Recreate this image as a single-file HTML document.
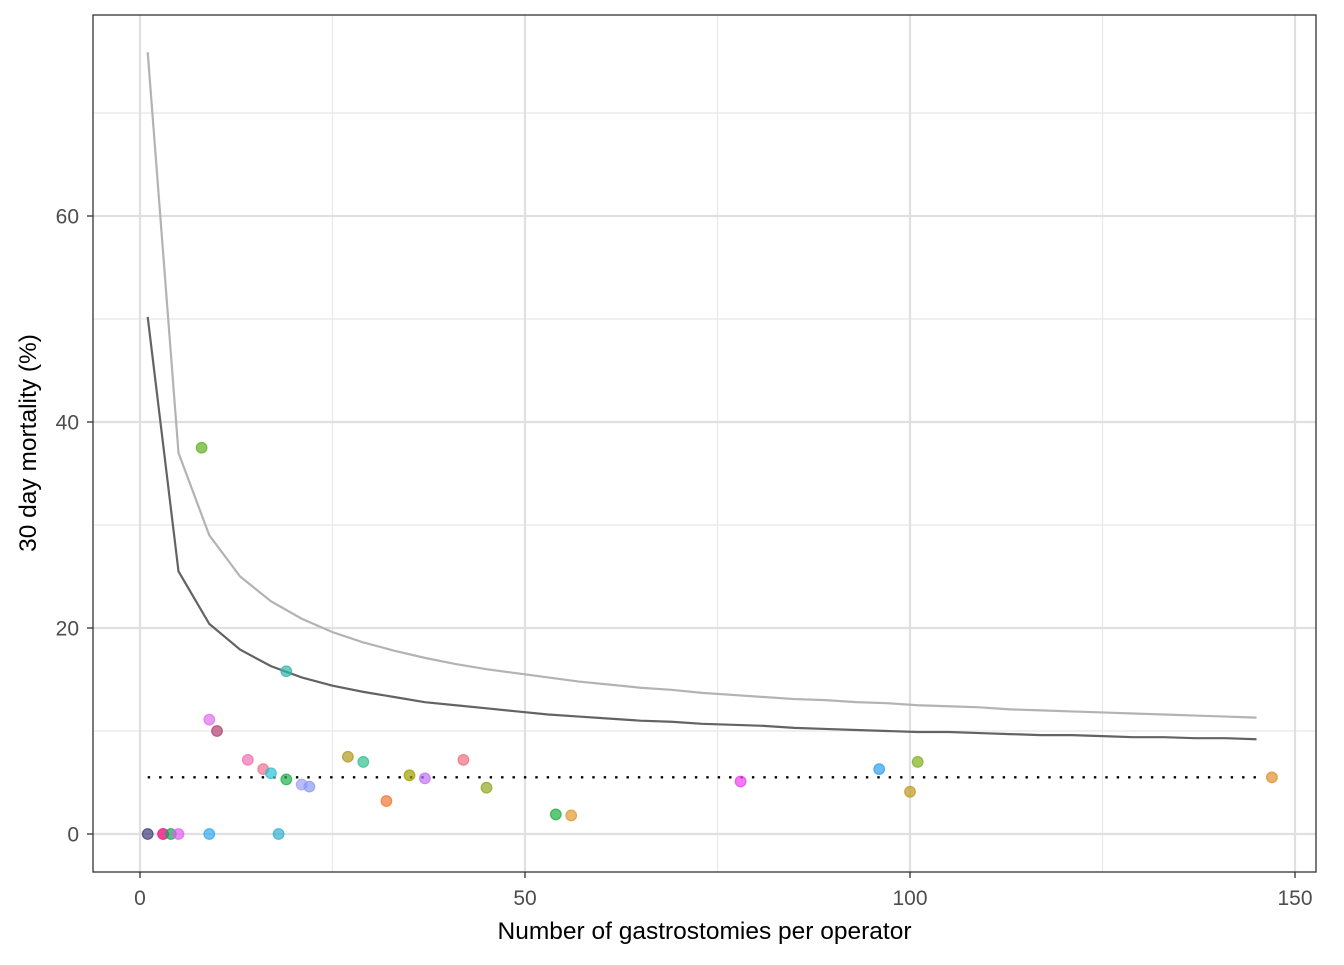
<!DOCTYPE html>
<html><head><meta charset="utf-8"><style>
body{margin:0;background:#fff}
svg text{font-family:"Liberation Sans",Arial,sans-serif}
</style></head><body>
<svg id="chart" width="1344" height="960" xmlns="http://www.w3.org/2000/svg"></svg>
<script>
const funnelN=[1,5,9,13,17,21,25,29,33,37,41,45,49,53,57,61,65,69,73,77,81,85,89,93,97,101,105,109,113,117,121,125,129,133,137,141,145];
const upper95=[50.2,25.5,20.4,17.9,16.3,15.2,14.4,13.8,13.3,12.8,12.5,12.2,11.9,11.6,11.4,11.2,11.0,10.9,10.7,10.6,10.5,10.3,10.2,10.1,10.0,9.9,9.9,9.8,9.7,9.6,9.6,9.5,9.4,9.4,9.3,9.3,9.2];
const upper998=[75.9,37.0,29.0,25.0,22.6,20.9,19.6,18.6,17.8,17.1,16.5,16.0,15.6,15.2,14.8,14.5,14.2,14.0,13.7,13.5,13.3,13.1,13.0,12.8,12.7,12.5,12.4,12.3,12.1,12.0,11.9,11.8,11.7,11.6,11.5,11.4,11.3];
const meanRate=5.5;
const opX=[1,3,3,4,5,8,9,9,10,14,16,17,18,19,19,21,22,27,29,32,35,37,42,45,54,56,78,96,100,101,147];
const opY=[0,0,0,0,0,37.5,0,11.1,10,7.2,6.3,5.9,0,5.3,15.8,4.8,4.6,7.5,7,3.2,5.7,5.4,7.2,4.5,1.9,1.8,5.1,6.3,4.1,7,5.5];
const opC=['#3d3d7a','#f03090','#f03090','#20a060','#e060f0','#60b020','#30a8f0','#e070f0','#b04070','#f070b0','#f07090','#30c0d0','#30b0d0','#20b050','#30b8a8','#a0a0f8','#8898f8','#b09a20','#30c090','#f07830','#a0a000','#c070f8','#f07080','#90a820','#20b040','#e09830','#f040f0','#30a0f0','#c09a20','#80b020','#e09030'];
const xTicks=[0,50,100,150], xMinor=[25,75,125];
const yTicks=[0,20,40,60], yMinor=[10,30,50,70];
const L=93,T=15,R=1316,B=872;
const sx=v=>140+v*7.7, sy=v=>834-v*10.3;
const svg=document.getElementById('chart');
const NS='http://www.w3.org/2000/svg';
function mk(t,a,p){const e=document.createElementNS(NS,t);for(const k in a)e.setAttribute(k,a[k]);(p||svg).appendChild(e);return e;}
const grid=mk('g',{});


xMinor.forEach(v=>mk('line',{x1:sx(v),x2:sx(v),y1:T,y2:B,stroke:'#e8e8e8','stroke-width':1.2},grid));
yMinor.forEach(v=>mk('line',{x1:L,x2:R,y1:sy(v),y2:sy(v),stroke:'#e8e8e8','stroke-width':1.2},grid));
xTicks.forEach(v=>mk('line',{x1:sx(v),x2:sx(v),y1:T,y2:B,stroke:'#e0e0e0','stroke-width':2.2},grid));
yTicks.forEach(v=>mk('line',{x1:L,x2:R,y1:sy(v),y2:sy(v),stroke:'#e0e0e0','stroke-width':2.2},grid));
const pts=(ys)=>funnelN.map((n,i)=>sx(n)+','+sy(ys[i])).join(' ');
const l2=mk('polyline',{points:pts(upper998),fill:'none',stroke:'#b3b3b3','stroke-width':2.2});


const l1=mk('polyline',{points:pts(upper95),fill:'none',stroke:'#636363','stroke-width':2.2});


const ml=mk('line',{x1:sx(funnelN[0]),x2:sx(funnelN[funnelN.length-1]),y1:sy(meanRate),y2:sy(meanRate),stroke:'#000','stroke-width':2.4,'stroke-dasharray':'2.4,9'});


opX.forEach((x,i)=>{const c=mk('circle',{cx:sx(x),cy:sy(opY[i]),r:5.3,fill:opC[i],'fill-opacity':0.7,stroke:opC[i],'stroke-opacity':0.8,'stroke-width':1.2});

});
const fr=mk('rect',{x:L,y:T,width:R-L,height:B-T,fill:'none',stroke:'#333','stroke-width':1.3});


xTicks.forEach(v=>{mk('line',{x1:sx(v),x2:sx(v),y1:B,y2:B+6,stroke:'#333','stroke-width':1.3});
const t=mk('text',{x:sx(v),y:B+33,'text-anchor':'middle','font-size':21,fill:'#4d4d4d'});t.textContent=v;

});
yTicks.forEach(v=>{mk('line',{x1:L-6,x2:L,y1:sy(v),y2:sy(v),stroke:'#333','stroke-width':1.3});
const t=mk('text',{x:L-14,y:sy(v)+7.5,'text-anchor':'end','font-size':21,fill:'#4d4d4d'});t.textContent=v;

});
const xt=mk('text',{x:(L+R)/2,y:939,'text-anchor':'middle','font-size':24.5,fill:'#000'});xt.textContent='Number of gastrostomies per operator';


const yt=mk('text',{x:0,y:0,'text-anchor':'middle','font-size':24.5,fill:'#000',transform:'translate(36,443) rotate(-90)'});yt.textContent='30 day mortality (%)';


</script>
</body></html>
